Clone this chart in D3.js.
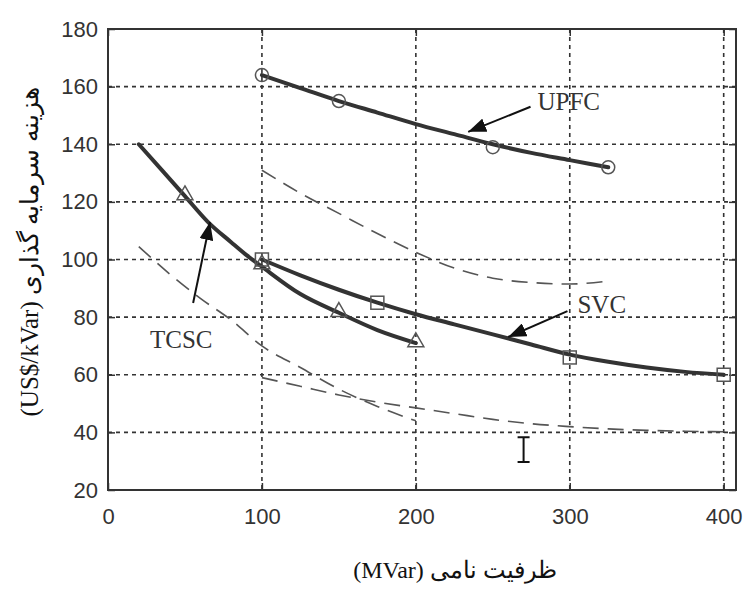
<!DOCTYPE html>
<html>
<head>
<meta charset="utf-8">
<script src="https://cdn.jsdelivr.net/npm/d3@7"></script>
<style>
  body { margin: 0; background: #fff; }
  .tick text { font-family: "Liberation Sans", Arial, sans-serif; fill: #333; }
  .note { font-family: "Liberation Serif", "Times New Roman", serif; fill: #333; }
</style>
</head>
<body>
<svg id="chart"></svg>
<script>
// axis ticks
let xTicks = [0, 100, 200, 300, 400]
let yTicks = [20, 40, 60, 80, 100, 120, 140, 160, 180]

// UPFC (solid, circles)
let upfcX = [100, 125, 150, 175, 200, 225, 250, 275, 300, 325]
let upfcY = [164, 159.5, 155, 151, 147, 143.5, 140, 137, 134.5, 132]
let upfcMarkX = [100, 150, 250, 325]
let upfcMarkY = [164, 155, 139, 132]

// TCSC (solid, triangles)
let tcscX = [20, 35, 50, 65, 80, 90, 100, 125, 150, 175, 200]
let tcscY = [140, 131, 122, 113, 106, 101.5, 97.5, 88, 81.5, 75.5, 71]
let tcscMarkX = [50, 100, 150, 200]
let tcscMarkY = [122, 98, 81.5, 71]

// SVC (solid, squares)
let svcX = [100, 125, 150, 175, 200, 225, 250, 275, 300, 325, 350, 375, 400]
let svcY = [100, 94.5, 89.5, 85, 81, 77.5, 74, 70.5, 67, 64.5, 62.5, 61, 60]
let svcMarkX = [100, 175, 300, 400]
let svcMarkY = [100, 85, 66, 60]

// thin dashed curves
let dashUpX = [100, 125, 150, 175, 200, 225, 250, 275, 300, 325]
let dashUpY = [131, 123, 116, 109, 102.5, 97, 93.5, 92, 91.5, 92.5]
let dashTcscX = [20, 40, 60, 80, 100, 125, 150, 175, 200]
let dashTcscY = [104.5, 95, 86.5, 79, 70, 62.5, 55, 49, 44]
let dashSvcX = [100, 125, 150, 175, 200, 225, 250, 275, 300, 325, 350, 375, 400]
let dashSvcY = [59, 56, 53, 50.5, 48.5, 46.5, 44.5, 43, 42, 41.2, 40.7, 40.4, 40.2]

// labels and arrows (data units: tail, tip, text position)
let notes = [
    {text: 'UPFC', tx: 279, ty: 152, from: [274.5, 153], to: [234, 144.3]},
    {text: 'SVC', tx: 305, ty: 81.4, from: [298.5, 82.1], to: [260, 73.1]},
    {text: 'TCSC', tx: 27.3, ty: 69.3, from: [55.3, 84.9], to: [66.3, 113]}
]

let xTitle = 'ظرفیت نامی (MVar)'
let yTitle = 'هزینه سرمایه گذاری (US$/kVar)'

function zip(xs, ys) { return xs.map((x, i) => ({x: x, y: ys[i]})) }

function getConfig(){
    let width = 747
    let height = 590
    let margin = {top: 29, bottom: 100, left: 108, right: 11}
    let bodyWidth = width - margin.left - margin.right
    let bodyHeight = height - margin.top - margin.bottom
    let container = d3.select('#chart')
        .attr('width', width)
        .attr('height', height)
    return {width, height, margin, bodyWidth, bodyHeight, container}
}

function getScales(config){
    let xScale = d3.scaleLinear()
        .domain([0, 408])
        .range([0, config.bodyWidth])
    let yScale = d3.scaleLinear()
        .domain([20, 180])
        .range([config.bodyHeight, 0])
    return {xScale, yScale}
}

function drawGridAndAxes(scales, config){
    let {xScale, yScale} = scales
    let {container, margin, bodyWidth, bodyHeight} = config
    let body = container.append('g')
        .attr('transform', `translate(${margin.left},${margin.top})`)

    // dotted grid
    body.append('g').selectAll('line.gx')
        .data(xTicks.slice(1))
        .join('line')
        .attr('x1', d => xScale(d)).attr('x2', d => xScale(d))
        .attr('y1', 0).attr('y2', bodyHeight)
        .attr('stroke', '#333').attr('stroke-width', 1.6)
        .attr('stroke-dasharray', '4,4')
    body.append('g').selectAll('line.gy')
        .data(yTicks.slice(1, -1))
        .join('line')
        .attr('x1', 0).attr('x2', bodyWidth)
        .attr('y1', d => yScale(d)).attr('y2', d => yScale(d))
        .attr('stroke', '#333').attr('stroke-width', 1.6)
        .attr('stroke-dasharray', '4,4')

    let axisX = d3.axisBottom(xScale).tickValues(xTicks).tickSize(-7).tickPadding(14)
    let gx = body.append('g')
        .attr('transform', `translate(0,${bodyHeight})`)
        .call(axisX)
    let axisY = d3.axisLeft(yScale).tickValues(yTicks).tickSize(-7).tickPadding(14)
    let gy = body.append('g').call(axisY)
    let axisYR = d3.axisRight(yScale).tickValues(yTicks).tickSize(-7).tickFormat('')
    let gyr = body.append('g').attr('transform', `translate(${bodyWidth},0)`).call(axisYR)
    let axisXT = d3.axisTop(xScale).tickValues(xTicks).tickSize(-7).tickFormat('')
    let gxt = body.append('g').call(axisXT)

    for (let g of [gx, gy, gyr, gxt]) {
        g.select('.domain').remove()
        g.selectAll('.tick line').attr('stroke', '#333').attr('stroke-width', 1.5)
        g.selectAll('.tick text').style('font-size', '22px')
    }
    gx.selectAll('.tick text').attr('dy', '0.9em')
    gy.selectAll('.tick text').attr('dx', '4px')

    body.append('rect')
        .attr('width', bodyWidth).attr('height', bodyHeight)
        .attr('fill', 'none').attr('stroke', '#333').attr('stroke-width', 2)
    return body
}

function drawCurves(body, scales){
    let {xScale, yScale} = scales
    let line = d3.line()
        .x(d => xScale(d.x))
        .y(d => yScale(d.y))
        .curve(d3.curveMonotoneX)

    let dashed = [zip(dashUpX, dashUpY), zip(dashTcscX, dashTcscY), zip(dashSvcX, dashSvcY)]
    body.selectAll('path.dash')
        .data(dashed)
        .join('path')
        .attr('class', 'dash')
        .attr('d', line)
        .attr('fill', 'none').attr('stroke', '#555').attr('stroke-width', 1.6)
        .attr('stroke-dasharray', '16,9')

    let solid = [zip(upfcX, upfcY), zip(tcscX, tcscY), zip(svcX, svcY)]
    body.selectAll('path.solid')
        .data(solid)
        .join('path')
        .attr('class', 'solid')
        .attr('d', line)
        .attr('fill', 'none').attr('stroke', '#333').attr('stroke-width', 4)
        .attr('stroke-linejoin', 'round').attr('stroke-linecap', 'round')

    let markStyle = sel => sel.attr('fill', 'none').attr('stroke', '#555').attr('stroke-width', 1.5)
    body.selectAll('circle.m')
        .data(zip(upfcMarkX, upfcMarkY))
        .join('circle')
        .attr('cx', d => xScale(d.x)).attr('cy', d => yScale(d.y)).attr('r', 6.5)
        .call(markStyle)
    body.selectAll('path.tri')
        .data(zip(tcscMarkX, tcscMarkY))
        .join('path')
        .attr('d', d3.symbol(d3.symbolTriangle, 110))
        .attr('transform', d => `translate(${xScale(d.x)},${yScale(d.y) - 1})`)
        .call(markStyle)
    body.selectAll('rect.sq')
        .data(zip(svcMarkX, svcMarkY))
        .join('rect')
        .attr('x', d => xScale(d.x) - 6.5).attr('y', d => yScale(d.y) - 6.5)
        .attr('width', 13).attr('height', 13)
        .call(markStyle)
}

function drawNotes(body, scales, config){
    let {xScale, yScale} = scales
    config.container.append('defs').append('marker')
        .attr('id', 'head')
        .attr('viewBox', '0 0 18 14')
        .attr('refX', 18).attr('refY', 7)
        .attr('markerUnits', 'userSpaceOnUse')
        .attr('markerWidth', 18).attr('markerHeight', 14)
        .attr('orient', 'auto')
        .append('path').attr('d', 'M0,0L18,7L0,14Z').attr('fill', '#111')

    body.selectAll('line.arrow')
        .data(notes)
        .join('line')
        .attr('x1', d => xScale(d.from[0])).attr('y1', d => yScale(d.from[1]))
        .attr('x2', d => xScale(d.to[0])).attr('y2', d => yScale(d.to[1]))
        .attr('stroke', '#111').attr('stroke-width', 2)
        .attr('marker-end', 'url(#head)')
    body.selectAll('text.lbl')
        .data(notes)
        .join('text')
        .attr('class', 'note')
        .attr('x', d => xScale(d.tx)).attr('y', d => yScale(d.ty))
        .style('font-size', '25px')
        .text(d => d.text)

    // the text-cursor I-beam left in the screenshot
    let cx = xScale(270), top = yScale(38.3), bot = yScale(29.7)
    body.append('path')
        .attr('d', `M${cx - 6},${top}H${cx + 6}M${cx},${top}V${bot}M${cx - 6},${bot}H${cx + 6}`)
        .attr('stroke', '#111').attr('stroke-width', 2).attr('fill', 'none')
}

function drawTitles(config){
    let {container} = config
    container.append('text')
        .attr('class', 'note')
        .attr('x', 455).attr('y', 578)
        .attr('text-anchor', 'middle')
        .attr('direction', 'rtl')
        .style('font-size', '24px').style('fill', '#111')
        .text(xTitle)
    container.append('text')
        .attr('class', 'note')
        .attr('transform', 'translate(38,252) rotate(-90)')
        .attr('text-anchor', 'middle')
        .attr('direction', 'rtl')
        .style('font-size', '25px').style('fill', '#111')
        .text(yTitle)
}

let config = getConfig()
let scales = getScales(config)
let body = drawGridAndAxes(scales, config)
drawCurves(body, scales)
drawNotes(body, scales, config)
drawTitles(config)
</script>
</body>
</html>
